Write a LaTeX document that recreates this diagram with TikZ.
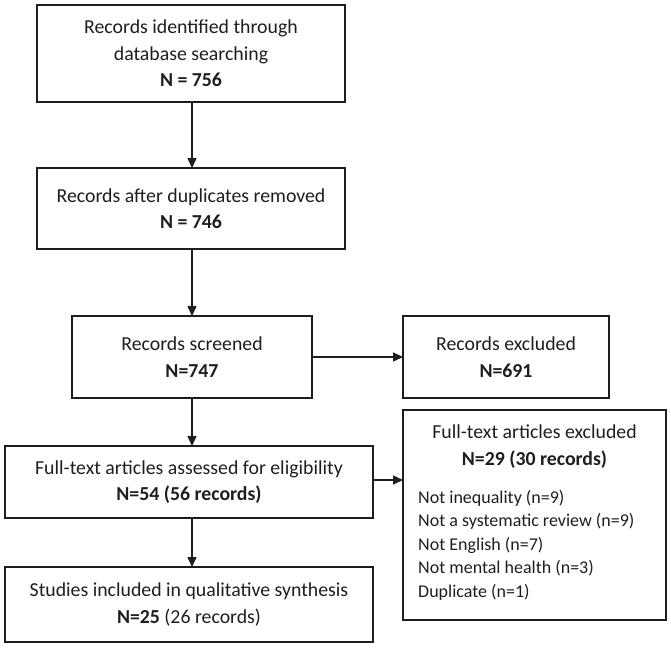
\documentclass[tikz,border=0pt]{standalone}
\usepackage{fontspec}
\setmainfont{Carlito}
\usetikzlibrary{arrows.meta}
\definecolor{ink}{HTML}{1E1E1E}
\begin{document}
\begin{tikzpicture}[x=1pt,y=-1pt,
  boxnode/.style={draw=ink, line width=1.5pt, inner sep=0pt, outer sep=0pt, align=center,
    text=ink, font=\fontsize{19.8}{26.5}\selectfont},
  arr/.style={draw=ink, line width=1.4pt, -{Triangle[length=10pt,width=9pt]}},
  txt/.style={inner sep=0pt, text=ink}]
\useasboundingbox (0,0) rectangle (671,648);
\node[boxnode, minimum width=308pt, minimum height=97pt] (b1) at (191,53.5)
  {Records identified through\\database searching\\\textbf{N = 756}};
\node[boxnode, minimum width=308pt, minimum height=81pt] (b2) at (191,208.5)
  {Records after duplicates removed\\\textbf{N = 746}};
\node[boxnode, minimum width=240pt, minimum height=82pt] (b3) at (192,357)
  {Records screened\\\textbf{N=747}};
\node[boxnode, minimum width=206pt, minimum height=82pt] (b4) at (506,357)
  {Records excluded\\\textbf{N=691}};
\node[boxnode, minimum width=368pt, minimum height=72pt] (b5) at (189,482)
  {Full-text articles assessed for eligibility\\\textbf{N=54 (56 records)}};
\node[boxnode, minimum width=263pt, minimum height=210pt] (b6) at (534.5,515) {};
\node[boxnode, minimum width=368pt, minimum height=75pt] (b7) at (189,604.5)
  {Studies included in qualitative synthesis\\\textbf{N=25} (26 records)};
\node[txt, align=center, font=\fontsize{19.8}{27}\selectfont] (t6) at (534.5,447)
  {Full-text articles excluded\\\textbf{N=29 (30 records)}};
\node[txt, align=left, anchor=west, font=\fontsize{18}{23.5}\selectfont] (l6) at (418,545)
  {Not inequality (n=9)\\Not a systematic review (n=9)\\Not English (n=7)\\Not mental health (n=3)\\Duplicate (n=1)};
\draw[arr] (b1.south -| b3.north) -- (b2.north -| b3.north);
\draw[arr] (b2.south -| b3.north) -- (b3.north);
\draw[arr] (b3.east) -- (b4.west);
\draw[arr] (b3.south) -- (b3.south |- b5.north);
\draw[arr] (b5.south -| b3.south) -- (b3.south |- b7.north);
\draw[arr] (b5.east |- 0,480) -- (b6.west |- 0,480);
\end{tikzpicture}
\end{document}
